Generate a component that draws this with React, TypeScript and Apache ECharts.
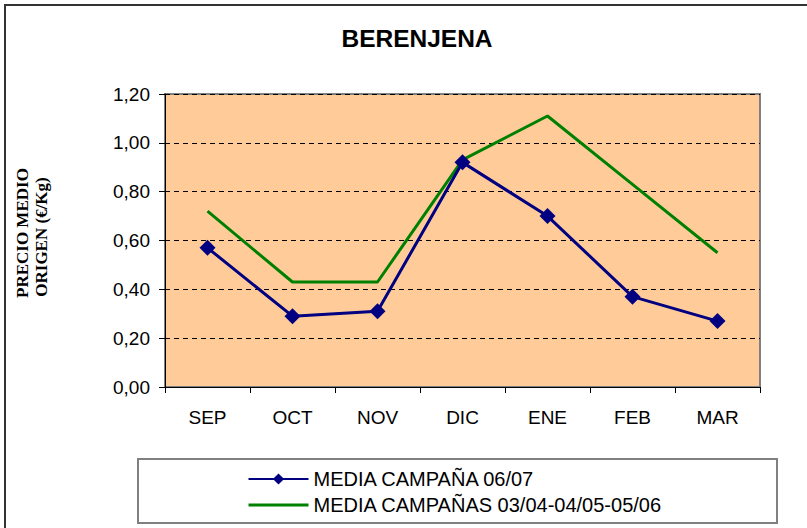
import React, { useEffect, useRef } from "react";
import * as echarts from "echarts";

const titleText = "BERENJENA";
const categories = ["SEP", "OCT", "NOV", "DIC", "ENE", "FEB", "MAR"];
const seriesNames = ["MEDIA CAMPAÑA 06/07", "MEDIA CAMPAÑAS 03/04-04/05-05/06"];
const campana0607 = [0.57, 0.29, 0.31, 0.92, 0.7, 0.37, 0.27];
const campanasPrevias = [0.72, 0.43, 0.43, 0.93, 1.11, 0.83, 0.55];
const yNameLines = ["PRECIO MEDIO", "ORIGEN (€/Kg)"];

export default function App() {
  const ref = useRef<HTMLDivElement>(null);
  useEffect(() => {
    if (!ref.current) return;
    const chart = echarts.init(ref.current, null, { renderer: "svg" });
    const font = "Liberation Sans, Arial, sans-serif";
    const serif = "Liberation Serif, Times New Roman, serif";
    chart.setOption({
      animation: false,
      backgroundColor: "#ffffff",
      title: {
        text: titleText,
        left: 412,
        textAlign: "center",
        top: 21,
        textStyle: { fontFamily: font, fontWeight: "bold", fontSize: 24.5, color: "#000" },
      },
      grid: {
        left: 165,
        right: 47,
        top: 94,
        bottom: 141,
        show: true,
        backgroundColor: "#FFCC99",
        borderColor: "#808080",
        borderWidth: 2,
      },
      legend: {
        orient: "vertical",
        left: 242,
        top: 464,
        itemWidth: 60,
        itemHeight: 14,
        itemGap: 6,
        textStyle: { fontFamily: font, fontSize: 20, color: "#000", lineHeight: 20 },
        data: [
          { name: seriesNames[0] },
          {
            name: seriesNames[1],
            itemStyle: { opacity: 0 },
            lineStyle: { color: "#008000", width: 3, opacity: 1 },
          },
        ],
      },
      xAxis: {
        type: "category",
        data: categories,
        boundaryGap: true,
        axisLine: { lineStyle: { color: "#000", width: 1 } },
        axisTick: { show: true, length: 6, lineStyle: { color: "#000" } },
        axisLabel: { fontFamily: font, fontSize: 19, color: "#000", margin: 21 },
      },
      yAxis: {
        type: "value",
        min: 0,
        max: 1.2,
        interval: 0.2,
        axisLine: { show: true, lineStyle: { color: "#000", width: 1 } },
        axisTick: { show: true, length: 6, lineStyle: { color: "#000" } },
        axisLabel: {
          fontFamily: font,
          fontSize: 19,
          color: "#000",
          margin: 15,
          formatter: (v: number) => v.toFixed(2).replace(".", ","),
        },
        splitLine: { show: true, lineStyle: { color: "#000", type: [5, 4], width: 1 } },
      },
      graphic: [
        {
          type: "rect",
          z: -10,
          silent: true,
          shape: { x: 5, y: 5, width: 900, height: 900 },
          style: { fill: "none", stroke: "#333", lineWidth: 2 },
        },
        {
          type: "rect",
          z: 0,
          silent: true,
          shape: { x: 138, y: 459, width: 639, height: 64 },
          style: { fill: "#fff", stroke: "#808080", lineWidth: 2 },
        },
        {
          type: "text",
          x: 22,
          y: 298,
          rotation: Math.PI / 2,
          style: {
            text: yNameLines[0],
            fontFamily: serif,
            fontWeight: "bold",
            fontSize: 17,
            fill: "#000",
            textAlign: "left",
            textVerticalAlign: "middle",
          },
        },
        {
          type: "text",
          x: 41,
          y: 237,
          rotation: Math.PI / 2,
          style: {
            text: yNameLines[1],
            fontFamily: serif,
            fontWeight: "bold",
            fontSize: 17,
            fill: "#000",
            textAlign: "center",
            textVerticalAlign: "middle",
          },
        },
      ],
      series: [
        {
          name: seriesNames[0],
          type: "line",
          data: campana0607,
          z: 3,
          symbol: "diamond",
          symbolSize: 16,
          itemStyle: { color: "#000080" },
          lineStyle: { color: "#000080", width: 3 },
        },
        {
          name: seriesNames[1],
          type: "line",
          data: campanasPrevias,
          z: 2,
          symbol: "none",
          itemStyle: { color: "#008000" },
          lineStyle: { color: "#008000", width: 3 },
        },
      ],
    });
    return () => chart.dispose();
  }, []);
  return (
    <div
      ref={ref}
      style={{ position: "fixed", left: 0, top: 0, width: 807, height: 528 }}
    />
  );
}
